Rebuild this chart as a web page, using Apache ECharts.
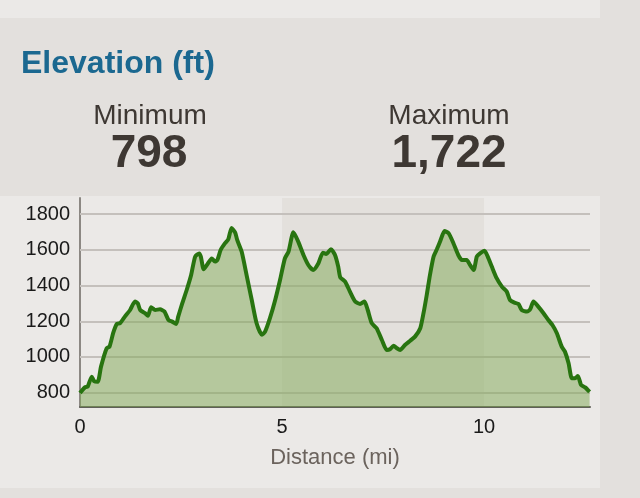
<!DOCTYPE html>
<html lang="en">
<head>
  <meta charset="utf-8">
  <title>Elevation (ft)</title>
  <style>
    html, body { margin: 0; padding: 0; background: #e3e0dd; }
    #container { width: 640px; height: 498px; }
  </style>
</head>
<body>
  <div id="container"></div>
  <script src="https://cdn.jsdelivr.net/npm/echarts@6/dist/echarts.min.js"></script>
  <script>
    // distance along the trail (mi) and elevation (ft)
    var distance = [0.00, 0.12, 0.19, 0.29, 0.35, 0.44, 0.52, 0.66, 0.73, 0.82, 0.91, 0.99,
      1.11, 1.24, 1.36, 1.43, 1.49, 1.61, 1.68, 1.76, 1.86, 1.98, 2.09, 2.19, 2.28, 2.38,
      2.43, 2.53, 2.64, 2.75, 2.85, 2.95, 2.99, 3.06, 3.14, 3.26, 3.34, 3.40, 3.48, 3.59,
      3.67, 3.75, 3.84, 3.89, 4.00, 4.13, 4.25, 4.37, 4.50, 4.58, 4.70, 4.83, 4.95, 5.07,
      5.16, 5.28, 5.40, 5.53, 5.65, 5.77, 5.90, 6.01, 6.09, 6.21, 6.31, 6.39, 6.44, 6.56,
      6.68, 6.81, 6.93, 7.04, 7.12, 7.22, 7.34, 7.47, 7.59, 7.67, 7.76, 7.84, 7.92, 8.04,
      8.17, 8.29, 8.42, 8.50, 8.58, 8.66, 8.75, 8.83, 8.91, 9.02, 9.12, 9.24, 9.36, 9.45,
      9.57, 9.65, 9.74, 9.82, 9.90, 10.01, 10.09, 10.19, 10.31, 10.44, 10.56, 10.64, 10.75,
      10.85, 10.93, 11.06, 11.14, 11.22, 11.34, 11.47, 11.59, 11.69, 11.80, 11.92, 12.00,
      12.09, 12.17, 12.25, 12.32, 12.40, 12.50, 12.61];
    var elevation = [798, 830, 834, 890, 865, 862, 946, 1049, 1058, 1133, 1185, 1189,
      1226, 1263, 1310, 1300, 1263, 1245, 1231, 1278, 1263, 1267, 1254, 1207, 1198, 1185,
      1226, 1300, 1375, 1459, 1562, 1580, 1562, 1491, 1515, 1552, 1534, 1543, 1599, 1637,
      1659, 1722, 1696, 1655, 1590, 1450, 1319, 1189, 1125, 1142, 1217, 1319, 1431, 1552,
      1590, 1698, 1646, 1571, 1515, 1487, 1525, 1584, 1577, 1603, 1571, 1506, 1446, 1422,
      1366, 1310, 1297, 1310, 1263, 1189, 1161, 1095, 1039, 1043, 1063, 1049, 1039, 1067,
      1091, 1114, 1161, 1245, 1347, 1459, 1562, 1603, 1646, 1705, 1693, 1637, 1571, 1543,
      1543, 1515, 1487, 1562, 1580, 1595, 1562, 1506, 1441, 1394, 1366, 1319, 1304,
      1297, 1263, 1254, 1267, 1310, 1282, 1245, 1207, 1179, 1133, 1058, 1030,
      965, 881, 881, 894, 843, 830, 805];
    var yTicks = [800, 1000, 1200, 1400, 1600, 1800];

    var minElev = Math.min.apply(null, elevation);
    var maxElev = Math.max.apply(null, elevation);
    var FONT = 'Liberation Sans, Arial, sans-serif';

    var chart = echarts.init(document.getElementById('container'), null, { renderer: 'canvas' });

    var option = {
      animation: false,
      backgroundColor: '#e3e0dd',
      textStyle: { fontFamily: FONT },
      graphic: [
        // light strip at the very top and the chart panel behind the plot
        { type: 'rect', z: -10, silent: true, shape: { x: 0, y: 0, width: 600, height: 18 }, style: { fill: '#ebe9e7' } },
        { type: 'rect', z: -10, silent: true, shape: { x: 0, y: 196, width: 600, height: 292 }, style: { fill: '#ebe9e7' } },
        { type: 'text', x: 21, y: 64, style: { text: 'Elevation (ft)', fill: '#1b6890', verticalAlign: 'middle', font: 'bold 32px ' + FONT } },
        { type: 'text', x: 150, y: 116, style: { text: 'Minimum', fill: '#3e3833', align: 'center', verticalAlign: 'middle', font: '28px ' + FONT } },
        { type: 'text', x: 149, y: 154, style: { text: minElev.toLocaleString('en-US'), fill: '#3e3833', align: 'center', verticalAlign: 'middle', font: 'bold 46px ' + FONT } },
        { type: 'text', x: 449, y: 116, style: { text: 'Maximum', fill: '#3e3833', align: 'center', verticalAlign: 'middle', font: '28px ' + FONT } },
        { type: 'text', x: 449, y: 154, style: { text: maxElev.toLocaleString('en-US'), fill: '#3e3833', align: 'center', verticalAlign: 'middle', font: 'bold 46px ' + FONT } }
      ],
      grid: { left: 80, right: 50, top: 198, bottom: 91 },
      xAxis: {
        type: 'value',
        min: 0,
        max: 12.62,
        interval: 5,
        name: 'Distance (mi)',
        nameLocation: 'middle',
        nameGap: 40,
        nameTextStyle: { color: '#6b635d', fontSize: 22 },
        axisLine: { show: true, onZero: false, lineStyle: { color: '#5f5f58', width: 2 } },
        axisTick: { show: false },
        axisLabel: { color: '#1a1a1a', fontSize: 20, margin: 10, showMaxLabel: false },
        splitLine: { show: false },
        splitArea: { show: true, areaStyle: { color: ['#ebe9e7', '#e3e0dc'] } }
      },
      yAxis: {
        type: 'value',
        min: 720,
        max: 1890,
        axisLine: { show: true, lineStyle: { color: '#8c8883', width: 2 } },
        axisTick: { show: false, customValues: yTicks },
        axisLabel: {
          color: '#1a1a1a', fontSize: 20, margin: 10, customValues: yTicks,
          formatter: function (v) { return String(v); }
        },
        splitLine: { show: false }
      },
      series: [
        {
          type: 'line',
          data: distance.map(function (d, i) { return [d, elevation[i]]; }),
          showSymbol: false,
          smooth: 0.2,
          z: 3,
          lineStyle: { color: '#287410', width: 4 },
          areaStyle: { color: '#7fa753', opacity: 0.5, origin: 'start' },
          // horizontal grid lines at the labelled elevations, kept under the area
          markLine: {
            z: 1,
            silent: true,
            symbol: 'none',
            label: { show: false },
            lineStyle: { color: '#c4c0bc', width: 2, type: 'solid' },
            data: yTicks.map(function (v) { return { yAxis: v }; })
          }
        }
      ]
    };

    chart.setOption(option);
    window.addEventListener('resize', chart.resize);
  </script>
</body>
</html>
